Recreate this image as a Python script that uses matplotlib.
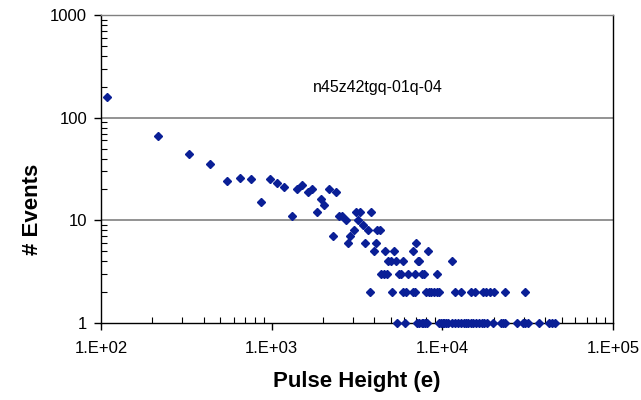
# Pulse height distribution, log-log scatter (Excel style)
import numpy as np
import matplotlib.pyplot as plt
from matplotlib.ticker import LogLocator, NullFormatter, FixedLocator

plt.rcParams['font.family'] = ['Liberation Sans', 'DejaVu Sans']

# Data: pulse height (e) and number of events
pulse_height = [
    109, 217, 326, 436, 546, 648, 760, 867, 984, 1080,
    1186, 1309, 1414, 1502, 1630, 1733, 1832, 1946, 2032, 2170,
    2280, 2396, 2472, 2600, 2716, 2795, 2888, 3017, 3102, 3207,
    3311, 3424, 3540, 3657, 3758, 3822, 3953, 4083, 4150, 4287,
    4385, 4558, 4632, 4711, 4817, 4977, 5058, 5200, 5317, 5404,
    5585, 5741, 5902, 5902, 6029, 6166, 6303, 6698, 6698, 6924,
    6924, 6998, 7194, 7345, 7638, 7852, 8251, 8035, 8392, 8628,
    8963, 9266, 9617, 9354, 11350, 11858, 12882, 14689, 15519, 17418,
    18112, 18907, 20187, 23174, 30506,
]
events = [
    158, 66, 44, 35, 24, 26, 25, 15, 25, 23,
    21, 11, 20, 22, 19, 20, 12, 16, 14, 20,
    7, 19, 11, 11, 10, 6, 7, 8, 12, 10,
    12, 9, 6, 8, 2, 12, 5, 6, 8, 8,
    3, 3, 5, 3, 4, 4, 2, 5, 4, 1,
    3, 3, 4, 2, 1, 2, 3, 5, 2, 2,
    3, 6, 4, 4, 3, 3, 5, 2, 2, 2,
    2, 2, 2, 3, 4, 2, 2, 2, 2, 2,
    2, 2, 2, 2, 2,
]
# single-event bins in the tail
single_height = [
    7112, 7311, 7551, 7726, 7943, 8166, 9506, 9773, 10046, 10280,
    10568, 10864, 11350, 11858, 12322, 12882, 13366, 13746, 14128, 14689,
    15171, 15775, 16482, 17137, 17620, 18288, 19862, 21928, 22685, 23442,
    27354, 29717, 30506, 31685, 36983, 42431, 44062, 45570,
]
single_events = [1] * len(single_height)

fig = plt.figure(figsize=(6.41, 4.0), dpi=100)
ax = fig.add_axes([101 / 641, 0.1925, 512 / 641, 0.77])

color = '#0a1f96'
ax.plot(pulse_height, events, linestyle='none', marker='D',
        markersize=3.7, color=color, zorder=3, clip_on=False)
ax.plot(single_height, single_events, linestyle='none', marker='D',
        markersize=3.7, color=color, zorder=3, clip_on=False)

ax.set_xscale('log')
ax.set_yscale('log')
ax.set_xlim(100, 1e5)
ax.set_ylim(1, 1000)

# gridlines only on the decades
for v in [10, 100, 1000]:
    ax.axhline(v, color='#808080', linewidth=1.2, zorder=1)

ax.xaxis.set_major_locator(FixedLocator([1e2, 1e3, 1e4, 1e5]))
ax.set_xticklabels(['1.E+02', '1.E+03', '1.E+04', '1.E+05'])
ax.yaxis.set_major_locator(FixedLocator([1, 10, 100, 1000]))
ax.set_yticklabels(['1', '10', '100', '1000'])
ax.xaxis.set_minor_locator(LogLocator(base=10, subs=np.arange(2, 10)))
ax.yaxis.set_minor_locator(LogLocator(base=10, subs=np.arange(2, 10)))
ax.xaxis.set_minor_formatter(NullFormatter())
ax.yaxis.set_minor_formatter(NullFormatter())

ax.tick_params(which='major', direction='out', length=5, width=1,
               labelsize=12, color='black')
ax.tick_params(which='minor', direction='in', length=4, width=0.8,
               color='black')
ax.tick_params(axis='x', which='major', pad=8)
ax.tick_params(axis='y', which='major', pad=5)

for s in ax.spines.values():
    s.set_color('black')
    s.set_linewidth(1.0)
ax.spines['top'].set_color('#808080')

ax.set_xlabel('Pulse Height (e)', fontsize=16, fontweight='bold', labelpad=11)
fig.text(33 / 641, 1 - 209 / 400, '# Events', rotation=90, ha='center',
         va='center', fontsize=16, fontweight='bold')

ax.text(0.54, 0.765, 'n45z42tgq-01q-04', transform=ax.transAxes,
        ha='center', va='center', fontsize=11.5)

fig.savefig('out.png', dpi=100)
